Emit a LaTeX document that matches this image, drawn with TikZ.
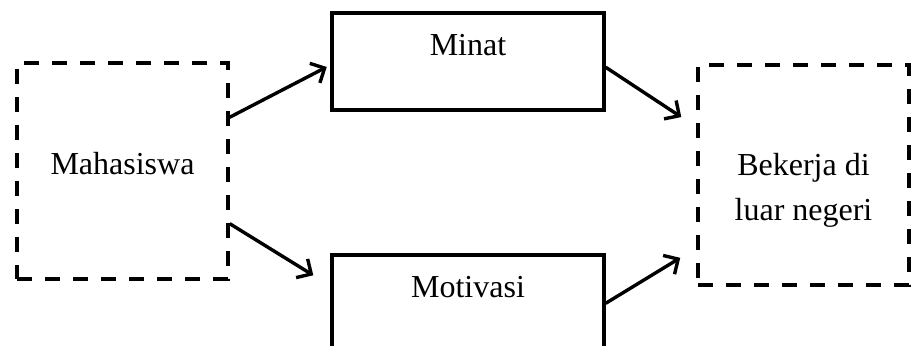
\documentclass[tikz,border=0pt]{standalone}
\usepackage{fontspec}
\setmainfont{Liberation Serif}
\usetikzlibrary{positioning,calc,arrows.meta}

\begin{document}
\begin{tikzpicture}[->, >={Straight Barb[length=5.5pt,width=11pt]}, line width=1.7pt,
	font=\fontsize{16}{22.5}\selectfont,
	solidbox/.style={draw, minimum width=136pt, inner ysep=0pt, text height=21pt, text depth=27.5pt},
	dashbox/.style={draw, dash pattern=on 7.5pt off 6.5pt, minimum width=105.5pt, inner ysep=0pt}]
	\clip (0,0) rectangle (455.5pt,-172.5pt);
	\node[dashbox, text height=55.5pt, text depth=52.5pt] (maha) at (61.25pt,-85.5pt) {Mahasiswa};
	\node[solidbox] (minat) at (234pt,-30.75pt) {Minat};
	\node[solidbox] (moti) at (234pt,-151.75pt) {Motivasi};
	\node[dashbox, align=center, text height=77.5pt, text depth=32.5pt] (kerja) [right=233.3pt of maha, yshift=-2pt] {Bekerja di\\luar negeri};
	
	\draw[shorten >=2pt] ($(maha.north east)!0.255!(maha.south east)$) -- ($(minat.north west)!0.536!(minat.south west)$);
	\draw[shorten >=10pt] ($(maha.north east)!0.74!(maha.south east)$) -- ($(moti.north west)+(0,-16.25pt)$);
	\draw[shorten >=9pt] ($(minat.north east)!0.557!(minat.south east)$) -- ($(kerja.north west)!0.285!(kerja.south west)$);
	\draw[shorten >=9.4pt] ($(moti.north east)+(0,-25pt)$) -- ($(kerja.north west)!0.827!(kerja.south west)$);
\end{tikzpicture}
\end{document}
